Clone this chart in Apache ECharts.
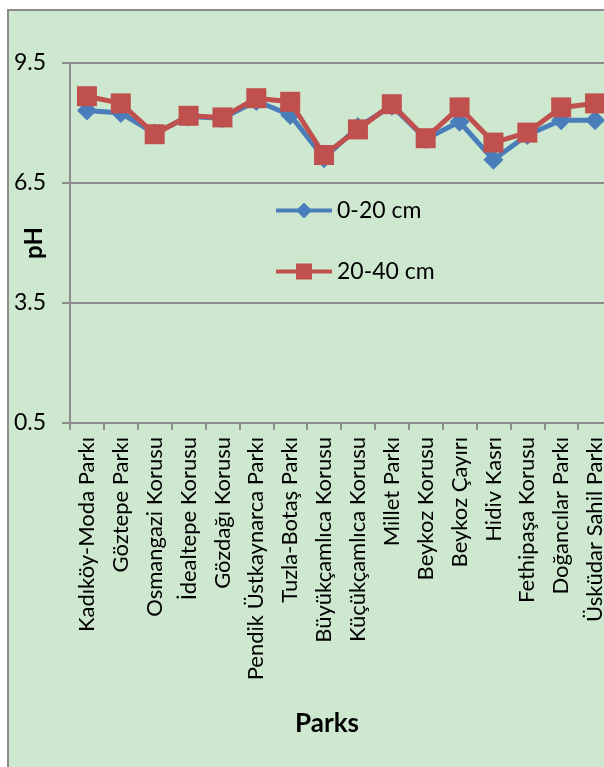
<!DOCTYPE html>
<html>
<head>
<meta charset="utf-8">
<script src="https://cdn.jsdelivr.net/npm/echarts@6/dist/echarts.min.js"></script>
<style>
  html, body { margin: 0; padding: 0; background: #ffffff; }
  #chart { width: 604px; height: 767px; }
</style>
</head>
<body>
<div id="chart"></div>
<script>
// Soil pH of Istanbul parks at two sampling depths
const parks = [
  "Kadıköy-Moda Parkı", "Göztepe Parkı", "Osmangazi Korusu", "İdealtepe Korusu",
  "Gözdağı Korusu", "Pendik Üstkaynarca Parkı", "Tuzla-Botaş Parkı", "Büyükçamlıca Korusu",
  "Küçükçamlıca Korusu", "Millet Parkı", "Beykoz Korusu", "Beykoz Çayırı",
  "Hidiv Kasrı", "Fethipaşa Korusu", "Doğancılar Parkı", "Üsküdar Sahil Parkı"
];
const ph0to20 = [8.31, 8.25, 7.74, 8.16, 8.12, 8.55, 8.20, 7.12, 7.90, 8.43, 7.60, 8.03, 7.08, 7.70, 8.07, 8.07];
const ph20to40 = [8.67, 8.49, 7.72, 8.18, 8.14, 8.62, 8.53, 7.20, 7.84, 8.47, 7.62, 8.39, 7.51, 7.76, 8.39, 8.49];
const yTicks = { min: 0.5, max: 9.5, step: 3 };

const FONT = 'Lato';
const chart = echarts.init(document.getElementById('chart'), null, { renderer: 'canvas' });

chart.setOption({
  animation: false,
  backgroundColor: '#ffffff',
  graphic: [{
    type: 'rect',
    z: -10,
    shape: { x: 8, y: 10, width: 620, height: 780 },
    style: { fill: '#cde8cf', stroke: '#8c8c8c', lineWidth: 2 }
  }],
  grid: { left: 70, top: 63, height: 360, width: 542, containLabel: false, outerBoundsMode: 'none' },
  legend: {
    orient: 'vertical',
    left: 274,
    top: 199,
    padding: 0,
    itemWidth: 56,
    itemHeight: 20,
    itemGap: 38,
    lineStyle: { width: 4 },
    textStyle: { fontFamily: FONT, fontSize: 23, color: '#000' },
    data: ['0-20 cm', '20-40 cm']
  },
  xAxis: {
    type: 'category',
    data: parks,
    boundaryGap: true,
    name: 'Parks',
    nameLocation: 'middle',
    nameGap: 288,
    nameMoveOverlap: false,
    nameTextStyle: { fontFamily: FONT, fontSize: 26, fontWeight: 'bold', color: '#000', padding: [0, 28, 0, 0] },
    axisLine: { lineStyle: { color: '#8c8c8c', width: 2 } },
    axisTick: { show: true, length: 7, lineStyle: { color: '#8c8c8c', width: 2 } },
    axisLabel: {
      rotate: 90,
      interval: 0,
      margin: 14,
      fontFamily: FONT,
      fontSize: 22,
      color: '#000'
    },
    splitLine: { show: false }
  },
  yAxis: {
    type: 'value',
    min: yTicks.min,
    max: yTicks.max,
    interval: yTicks.step,
    name: 'pH',
    nameLocation: 'middle',
    nameGap: 24,
    nameMoveOverlap: false,
    nameTextStyle: { fontFamily: FONT, fontSize: 24, fontWeight: 'bold', color: '#000' },
    axisLine: { show: true, lineStyle: { color: '#8c8c8c', width: 2 } },
    axisTick: { show: true, length: 8, lineStyle: { color: '#8c8c8c', width: 2 } },
    axisLabel: {
      margin: 24,
      fontFamily: FONT,
      fontSize: 23,
      color: '#000',
      formatter: v => v.toFixed(1)
    },
    splitLine: { show: true, lineStyle: { color: '#8c8c8c', width: 2 } }
  },
  series: [
    {
      name: '0-20 cm',
      type: 'line',
      data: ph0to20,
      symbol: 'diamond',
      symbolSize: 20,
      itemStyle: { color: '#4a7ebb' },
      lineStyle: { color: '#4a7ebb', width: 5 },
      z: 2
    },
    {
      name: '20-40 cm',
      type: 'line',
      data: ph20to40,
      symbol: 'rect',
      symbolSize: 20,
      itemStyle: { color: '#c0504d' },
      lineStyle: { color: '#c0504d', width: 5 },
      z: 3
    }
  ]
});
</script>
</body>
</html>
